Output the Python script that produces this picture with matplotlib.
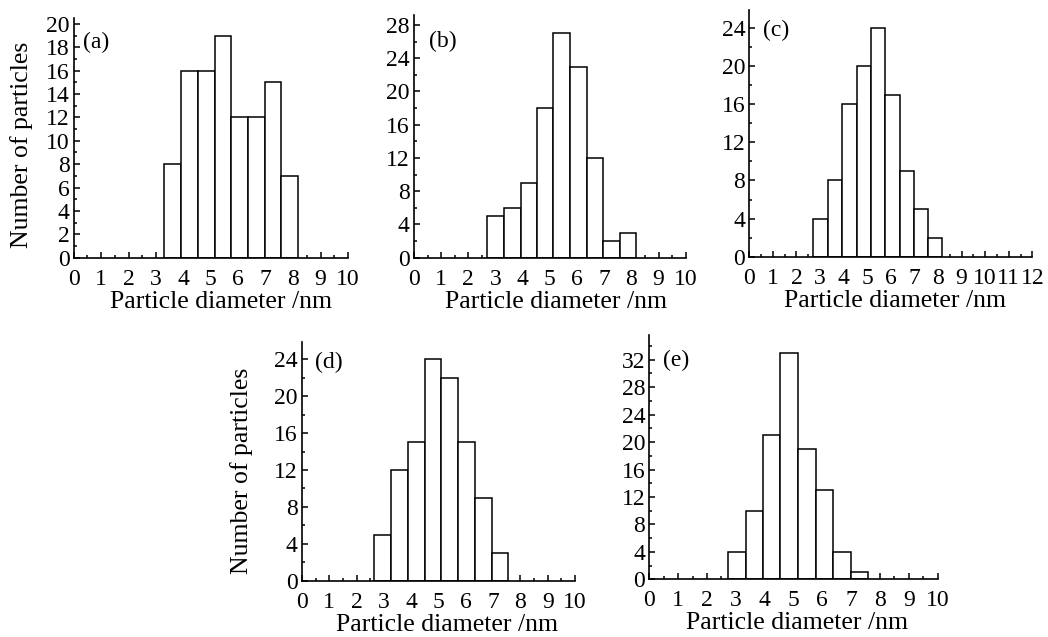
import numpy as np
import matplotlib
matplotlib.use("Agg")
import matplotlib.pyplot as plt
from matplotlib.ticker import MultipleLocator
from matplotlib.transforms import offset_copy

# ---- data ----
a_edges = [3.31, 3.93, 4.54, 5.15, 5.75, 6.36, 6.97, 7.57, 8.18]
a_counts = [8, 16, 16, 19, 12, 12, 15, 7]
b_edges = [2.70, 3.31, 3.93, 4.52, 5.13, 5.74, 6.36, 6.96, 7.57, 8.17]
b_counts = [5, 6, 9, 18, 27, 23, 12, 2, 3]
c_edges = [2.71, 3.34, 3.94, 4.55, 5.16, 5.77, 6.37, 6.98, 7.59, 8.18]
c_counts = [4, 8, 16, 20, 24, 17, 9, 5, 2]
d_edges = [2.65, 3.27, 3.88, 4.49, 5.10, 5.71, 6.34, 6.95, 7.56]
d_counts = [5, 12, 15, 24, 22, 15, 9, 3]
e_edges = [2.72, 3.34, 3.95, 4.53, 5.16, 5.77, 6.38, 6.98, 7.58]
e_counts = [4, 10, 21, 33, 19, 13, 4, 1]

panel_labels = ["(a)", "(b)", "(c)", "(d)", "(e)"]
xlabel = "Particle diameter /nm"
ylabel = "Number of particles"

plt.rcParams['font.family'] = ['Liberation Serif', 'DejaVu Serif']

W, H = 1048, 637
fig = plt.figure(figsize=(W / 100, H / 100), dpi=100)


def rect(left, right, bottom, top):
    return [left / W, 1 - bottom / H, (right - left) / W, (bottom - top) / H]


specs = [
    # edges, counts, rect px, xmax, ymax, ymajor, yminor, label pos, xlabel dx px, ylabel (dx, dy) px
    (a_edges, a_counts, (73.7, 348.0, 257.7, 18.0), 10, 20.5, 2, 1, (0.34, 18.4), 10, (-41, -7)),
    (b_edges, b_counts, (414.0, 685.7, 257.7, 15.0), 10, 29.2, 4, 2, (0.55, 26.0), 6, None),
    (c_edges, c_counts, (749.3, 1032.3, 256.7, 10.0), 12, 25.9, 4, 2, (0.58, 23.8), 4, None),
    (d_edges, d_counts, (302.0, 575.0, 580.7, 341.7), 10, 25.9, 4, 2, (0.48, 23.7), 9, (-49, -10)),
    (e_edges, e_counts, (649.3, 937.7, 579.3, 335.0), 10, 35.6, 4, 2, (0.46, 31.9), 4, None),
]

for (edges, counts, r, xmax, ymax, ymaj, ymin, lpos, xdx, ylab), plab in zip(specs, panel_labels):
    ax = fig.add_axes(rect(*r))
    edges = np.array(edges)
    widths = np.diff(edges)
    ax.bar(edges[:-1], counts, width=widths, align='edge', facecolor='white',
           edgecolor='black', linewidth=1.1, zorder=2)
    ax.set_xlim(0, xmax)
    ax.spines['top'].set_visible(False)
    ax.spines['right'].set_visible(False)
    for s in ('left', 'bottom'):
        ax.spines[s].set_linewidth(1.2)
        ax.spines[s].set_zorder(3)
    ax.xaxis.set_major_locator(MultipleLocator(1))
    ax.xaxis.set_minor_locator(MultipleLocator(0.5))
    ax.yaxis.set_minor_locator(MultipleLocator(ymin))
    ax.set_yticks(np.arange(0, ymax + 0.01, ymaj))
    ax.set_ylim(0, ymax)
    ax.tick_params(which='both', direction='in', labelsize=17, width=1.1)
    ax.tick_params(which='major', length=4)
    ax.tick_params(which='minor', length=2.5)
    ax.tick_params(axis='x', pad=8)
    ax.tick_params(axis='y', pad=3)
    ax.set_xlabel(xlabel, fontsize=18.5)
    tx = offset_copy(ax.transAxes, fig=fig, x=xdx, y=-33, units='dots')
    ax.xaxis.set_label_coords(0.5, 0.0, transform=tx)
    if ylab is not None:
        ax.set_ylabel(ylabel, fontsize=18.5)
        ty = offset_copy(ax.transAxes, fig=fig, x=ylab[0], y=ylab[1], units='dots')
        ax.yaxis.set_label_coords(0.0, 0.5, transform=ty)
    ax.text(lpos[0], lpos[1], plab, fontsize=17, ha='left', va='center')

fig.savefig("out.png", dpi=100)
